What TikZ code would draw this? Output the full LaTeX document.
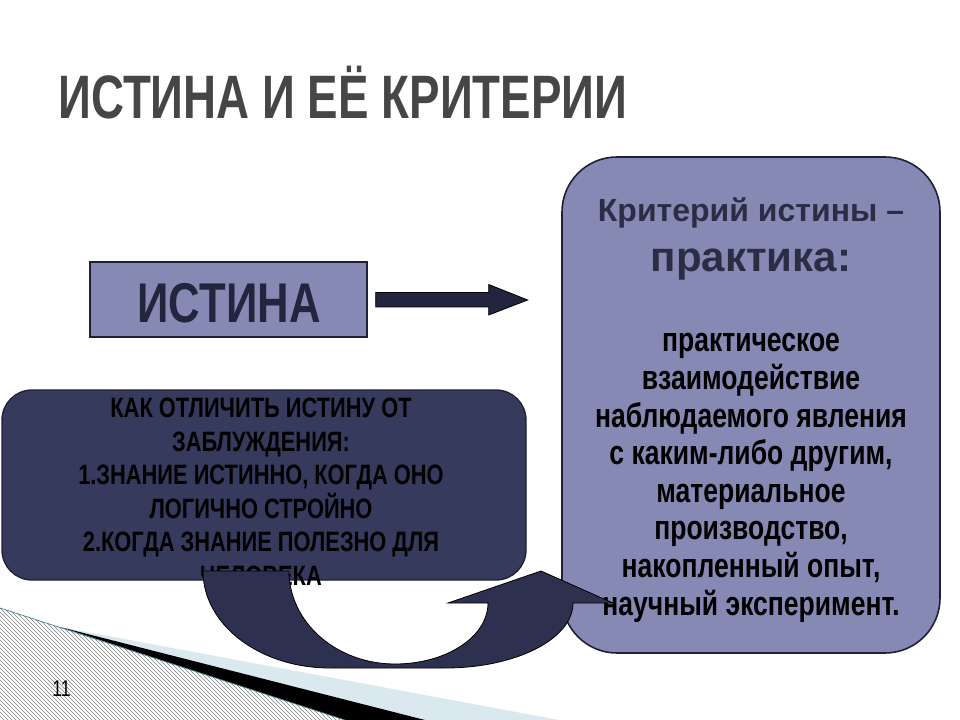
\documentclass[tikz,border=0pt]{standalone}
\usepackage{fontspec}
\setmainfont{Liberation Sans}
\newfontfamily\narrowfont[FakeStretch=0.78]{Liberation Sans}
\newfontfamily\titlefont[FakeStretch=0.745]{Liberation Sans}
\usetikzlibrary{patterns}

\definecolor{boxblue}{HTML}{8789B5}
\definecolor{darkbox}{HTML}{363A5C}
\definecolor{curvefill}{HTML}{2E3050}
\definecolor{arrowfill}{HTML}{22253D}
\definecolor{boxline}{HTML}{1F2035}
\definecolor{titlegray}{HTML}{464646}
\definecolor{headtext}{HTML}{2B2D45}
\definecolor{lightband}{HTML}{D9E9EF}
\definecolor{edgeteal}{HTML}{3E7F8C}

\begin{document}
\begin{tikzpicture}[x=0.75pt,y=-0.75pt,
    lightbox/.style={draw=boxline,line width=1pt,fill=boxblue,inner sep=0pt},
    darkpanel/.style={draw=boxline,line width=1pt,fill=darkbox,inner sep=0pt,rounded corners=30*0.75pt},
    critpanel/.style={draw=boxline,line width=1.2pt,fill=boxblue,inner sep=0pt,rounded corners=55*0.75pt},
    blockarrow/.style={draw=black,line width=0.6pt,fill=arrowfill},
    curvearrow/.style={draw=black,line width=0.6pt,fill=curvefill},
    txt/.style={inner sep=0pt,align=center}]
\useasboundingbox (0,0) rectangle (960,720);

\fill[pattern=north west lines,pattern color=gray] (0,608) -- (345,720) -- (0,720) -- cycle;
\fill[lightband] (60,627) -- (559,720) -- (425,720) -- cycle;
\fill[black] (60,627) -- (425,720) -- (345,720) -- cycle;
\draw[edgeteal,line width=0.5pt] (0,608) -- (345,720);

\node[txt,anchor=base west,text=titlegray,font=\titlefont\bfseries\fontsize{46}{50}\selectfont] (title) at (58,119) {ИСТИНА И ЕЁ КРИТЕРИИ};

\node[lightbox,minimum width=277*0.75pt,minimum height=75*0.75pt] (istina) at (228.5,299.5) {};
\node[txt,anchor=base,text=arrowfill,font=\narrowfont\bfseries\fontsize{42}{44}\selectfont] (istinatext) at (229,322) {ИСТИНА};

\draw[blockarrow] (istina.east) ++(8,-7) -- ++(113,0) -- ++(0,-8) -- ++(39,15.5) -- ++(-39,15) -- ++(0,-8) -- ++(-113,0) -- cycle;

\node[critpanel,minimum width=378*0.75pt,minimum height=496*0.75pt] (crit) at (751,405) {};
\node[txt,anchor=base,text=headtext,font=\bfseries\fontsize{24}{26}\selectfont] (crithead) at (751,222) {Критерий истины –};
\node[txt,anchor=base,text=headtext,font=\bfseries\fontsize{31.5}{33}\selectfont] (practice) at (751,272) {практика:};
\node[txt,anchor=base,font=\narrowfont\bfseries\fontsize{25.5}{28.2}\selectfont] (critbody) at (751,615)
  {практическое\\ взаимодействие\\ наблюдаемого явления\\ с каким-либо другим,\\ материальное\\ производство,\\ накопленный опыт,\\ научный эксперимент.};

\node[darkpanel,minimum width=524*0.75pt,minimum height=190*0.75pt] (howto) at (264,485) {};
\node[txt,anchor=base,font=\narrowfont\bfseries\fontsize{21}{25.1}\selectfont] (howtotext) at (261,585)
  {КАК ОТЛИЧИТЬ ИСТИНУ ОТ\\ ЗАБЛУЖДЕНИЯ:\\ 1.ЗНАНИЕ ИСТИННО, КОГДА ОНО\\ ЛОГИЧНО СТРОЙНО\\ 2.КОГДА ЗНАНИЕ ПОЛЕЗНО ДЛЯ\\ ЧЕЛОВЕКА};

\filldraw[curvearrow] (203,571) -- (289,571)
  .. controls (289,622) and (336,664) .. (395,664)
  .. controls (446,664) and (488,637) .. (488,603)
  -- (448,603) -- (541,571) -- (613,603) -- (573,603)
  .. controls (573,639) and (516,668) .. (445,668)
  -- (330,668)
  .. controls (260,668) and (203,625) .. (203,571) -- cycle;

\node[txt,anchor=base west,font=\narrowfont\fontsize{17}{19}\selectfont] (pagenum) at (52,696) {11};
\end{tikzpicture}
\end{document}
